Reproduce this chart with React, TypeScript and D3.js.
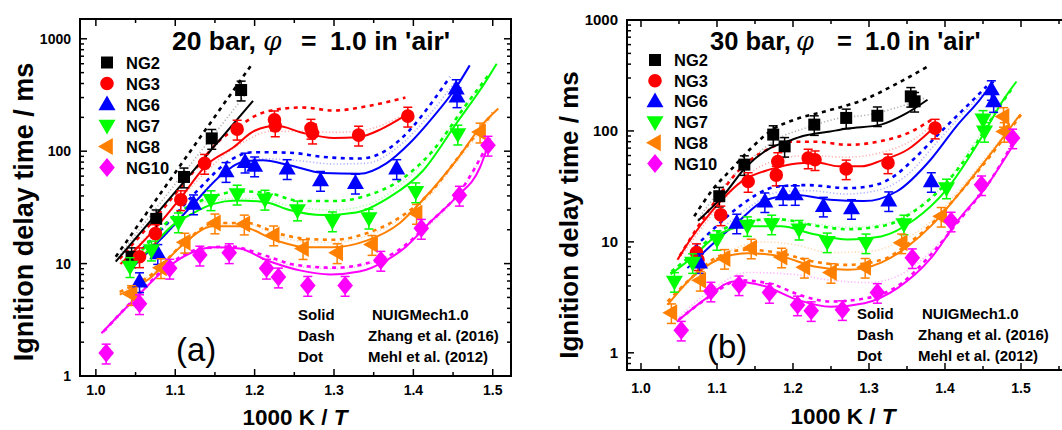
import React from 'react';
import * as d3 from 'd3';

type P = [number, number];

// ---------- shared data ----------
const mixtures = ['NG2', 'NG3', 'NG6', 'NG7', 'NG8', 'NG10'];
const colors = ['#000000', '#ff0000', '#0000ff', '#00ff00', '#ff8000', '#ff00ff'];
const shapes = ['square', 'circle', 'triUp', 'triDown', 'triLeft', 'diamond'];
const relErr = 0.2;
const xTickLabels = ['1.0', '1.1', '1.2', '1.3', '1.4', '1.5'];
const yTickLabels = ['1', '10', '100', '1000'];
const modelNames = ['Solid', 'Dash', 'Dot'];
const modelRefs = ['NUIGMech1.0', 'Zhang et al. (2016)', 'Mehl et al. (2012)'];

// ---------- panel (a): 20 bar ----------
const ptsA_NG2: P[] = [[1.045, 11.5], [1.076, 25], [1.111, 59], [1.146, 130], [1.183, 350]];
const solA_NG2: P[] = [[1.025, 10.4], [1.198, 280]];
const dashA_NG2: P[] = [[1.025, 11.5], [1.197, 600]];
const dotA_NG2: P[] = [[1.025, 10.8], [1.19, 330]];

const ptsA_NG3: P[] = [[1.055, 11.5], [1.075, 18.5], [1.107, 37], [1.137, 78], [1.178, 157], [1.225, 190], [1.226, 168], [1.271, 160], [1.273, 145], [1.331, 139], [1.393, 205]];
const solA_NG3: P[] = [[1.031, 9.9], [1.055, 14.5], [1.076, 21], [1.111, 42], [1.139, 75], [1.173, 108], [1.2, 152], [1.228, 168], [1.26, 146], [1.3, 131], [1.33, 133], [1.36, 158], [1.39, 208]];
const dashA_NG3: P[] = [[1.03, 11], [1.08, 28], [1.12, 62], [1.156, 125], [1.18, 165], [1.2, 205], [1.228, 235], [1.26, 245], [1.3, 230], [1.34, 250], [1.39, 300]];
const dotA_NG3: P[] = [[1.03, 10], [1.08, 23], [1.12, 48], [1.16, 90], [1.19, 125], [1.22, 150], [1.26, 150], [1.3, 147], [1.34, 155], [1.39, 215]];

const ptsA_NG6: P[] = [[1.055, 6.9], [1.078, 12.3], [1.123, 34], [1.164, 66], [1.188, 80], [1.2, 74], [1.241, 70], [1.283, 55], [1.327, 52], [1.379, 70], [1.454, 360], [1.455, 305]];
const solA_NG6: P[] = [[1.045, 9.1], [1.08, 16], [1.123, 34], [1.16, 63], [1.19, 82], [1.21, 83], [1.244, 75], [1.286, 64], [1.332, 63], [1.366, 78], [1.395, 117], [1.425, 202], [1.454, 371], [1.471, 580]];
const dashA_NG6: P[] = [[1.043, 10.5], [1.093, 24], [1.131, 47], [1.169, 83], [1.198, 98], [1.244, 97], [1.286, 89], [1.332, 86], [1.366, 102], [1.395, 153], [1.425, 282], [1.446, 458]];
const dotA_NG6: P[] = [[1.045, 9.5], [1.1, 22], [1.15, 55], [1.2, 86], [1.25, 83], [1.3, 77], [1.34, 78], [1.38, 108], [1.42, 210], [1.455, 440]];

const ptsA_NG7: P[] = [[1.043, 9.4], [1.07, 13.2], [1.104, 23.5], [1.145, 37], [1.178, 41.5], [1.213, 37.4], [1.254, 30], [1.298, 24], [1.344, 25.4], [1.403, 43.5], [1.456, 142]];
const solA_NG7: P[] = [[1.041, 8.8], [1.07, 14], [1.097, 22], [1.118, 27], [1.148, 34], [1.177, 36.5], [1.215, 35], [1.244, 30], [1.286, 27], [1.328, 28.5], [1.37, 39], [1.412, 67], [1.454, 176], [1.492, 425], [1.505, 600]];
const dashA_NG7: P[] = [[1.045, 10], [1.1, 27], [1.15, 40], [1.18, 44], [1.22, 42], [1.257, 36], [1.3, 36], [1.34, 40], [1.383, 55], [1.425, 102], [1.463, 240], [1.496, 490]];
const dotA_NG7: P[] = [[1.045, 9.5], [1.1, 25], [1.15, 37], [1.2, 38], [1.25, 32], [1.3, 30], [1.34, 33], [1.38, 48], [1.42, 90], [1.46, 220], [1.5, 520]];

const ptsA_NG8: P[] = [[1.045, 5.3], [1.082, 9.2], [1.112, 15.5], [1.15, 23], [1.187, 22.5], [1.224, 18], [1.261, 13.6], [1.304, 12.5], [1.348, 14.8], [1.404, 28], [1.484, 148]];
const solA_NG8: P[] = [[1.03, 5.3], [1.068, 7.4], [1.106, 14], [1.148, 21.5], [1.181, 21.5], [1.228, 16], [1.265, 14], [1.299, 14], [1.341, 16], [1.383, 23], [1.412, 37], [1.454, 83], [1.488, 176], [1.507, 240]];
const dashA_NG8: P[] = [[1.03, 5.6], [1.07, 8], [1.11, 15], [1.15, 23], [1.19, 23], [1.23, 18.5], [1.27, 16.5], [1.3, 16.3], [1.34, 18.5], [1.38, 25], [1.42, 42], [1.46, 95], [1.5, 220]];
const dotA_NG8: P[] = [[1.03, 5.5], [1.07, 8], [1.11, 15], [1.15, 22.5], [1.19, 22.5], [1.23, 17.5], [1.27, 15.5], [1.3, 15.5], [1.34, 17.5], [1.38, 24], [1.42, 40], [1.46, 90], [1.5, 210]];

const ptsA_NG10: P[] = [[1.013, 1.6], [1.055, 4.4], [1.093, 9.1], [1.131, 11.9], [1.168, 12.5], [1.215, 9.1], [1.23, 7.6], [1.267, 6.4], [1.314, 6.4], [1.359, 10.7], [1.41, 20.6], [1.458, 40.6], [1.494, 113]];
const solA_NG10: P[] = [[1.007, 2.4], [1.047, 4.7], [1.089, 9.1], [1.118, 12.3], [1.148, 14], [1.181, 13.6], [1.215, 10.7], [1.257, 8.7], [1.295, 8], [1.332, 8.5], [1.366, 10.7], [1.39, 14], [1.42, 23], [1.454, 39], [1.484, 72], [1.497, 130]];
const dashA_NG10: P[] = [[1.01, 2.5], [1.05, 5], [1.09, 9.5], [1.13, 13.5], [1.17, 14.2], [1.21, 12], [1.25, 9.8], [1.3, 9.2], [1.34, 10], [1.38, 13], [1.42, 23], [1.46, 45], [1.495, 120]];
const dotA_NG10: P[] = [[1.01, 2.4], [1.05, 4.8], [1.09, 9.3], [1.13, 13], [1.17, 13.8], [1.21, 11.5], [1.25, 9.5], [1.3, 9], [1.34, 9.8], [1.38, 12.8], [1.42, 22], [1.46, 44], [1.495, 115]];

// ---------- panel (b): 30 bar ----------
const ptsB_NG2: P[] = [[1.103, 25.8], [1.136, 49.7], [1.174, 92.7], [1.189, 72.6], [1.228, 114], [1.27, 131], [1.311, 137], [1.355, 205], [1.36, 185]];
const solB_NG2: P[] = [[1.075, 15.5], [1.108, 26], [1.139, 48], [1.17, 70], [1.192, 80], [1.213, 90], [1.249, 99], [1.272, 105], [1.316, 114], [1.346, 140], [1.377, 191]];
const dashB_NG2: P[] = [[1.07, 17], [1.095, 30], [1.12, 46], [1.145, 70], [1.175, 105], [1.2, 125], [1.25, 155], [1.294, 192], [1.338, 270], [1.377, 380]];
const dotB_NG2: P[] = [[1.075, 16], [1.1, 27], [1.14, 52], [1.18, 85], [1.22, 108], [1.26, 130], [1.3, 140], [1.34, 165], [1.375, 200]];

const ptsB_NG3: P[] = [[1.073, 8.0], [1.075, 6.9], [1.105, 17.5], [1.141, 35], [1.178, 40], [1.18, 53], [1.22, 57], [1.229, 55], [1.27, 45.5], [1.325, 51.5], [1.387, 106]];
const solB_NG3: P[] = [[1.048, 6.9], [1.065, 10.5], [1.095, 19.5], [1.135, 36], [1.17, 45], [1.205, 51], [1.231, 52], [1.26, 48], [1.29, 48], [1.316, 54], [1.351, 68], [1.382, 102]];
const dashB_NG3: P[] = [[1.051, 7.5], [1.093, 21], [1.13, 45], [1.17, 70], [1.196, 80], [1.23, 80], [1.272, 75], [1.316, 81], [1.36, 102], [1.382, 126]];
const dotB_NG3: P[] = [[1.05, 7], [1.1, 20], [1.14, 40], [1.18, 55], [1.22, 60], [1.27, 58], [1.32, 65], [1.36, 85], [1.385, 115]];

const ptsB_NG6: P[] = [[1.077, 6.5], [1.126, 14.8], [1.163, 23], [1.187, 26.7], [1.203, 26.7], [1.24, 21], [1.277, 20], [1.326, 23.5], [1.382, 35], [1.461, 236], [1.464, 184]];
const solB_NG6: P[] = [[1.061, 5.8], [1.09, 9], [1.126, 14.8], [1.165, 24], [1.205, 26.5], [1.249, 24], [1.293, 23.3], [1.337, 28.6], [1.381, 55], [1.415, 110], [1.446, 192], [1.464, 279]];
const dashB_NG6: P[] = [[1.071, 9], [1.1, 14], [1.13, 21], [1.179, 31.5], [1.218, 32.5], [1.272, 30.5], [1.311, 33], [1.335, 40], [1.358, 55], [1.393, 96], [1.433, 179], [1.455, 253]];
const dotB_NG6: P[] = [[1.065, 7], [1.1, 12], [1.14, 20], [1.18, 28], [1.22, 29], [1.27, 27], [1.31, 29], [1.35, 40], [1.39, 80], [1.43, 160], [1.46, 250]];

const ptsB_NG7: P[] = [[1.044, 4.4], [1.068, 6.5], [1.1, 10.5], [1.14, 14], [1.172, 14.5], [1.208, 13], [1.245, 10], [1.296, 9.8], [1.346, 14.5], [1.402, 30.6], [1.452, 99], [1.45, 127]];
const solB_NG7: P[] = [[1.039, 5.1], [1.07, 7.5], [1.096, 10.9], [1.14, 13.8], [1.184, 13.8], [1.228, 11.7], [1.272, 10.5], [1.316, 11.2], [1.36, 15.9], [1.402, 29.6], [1.446, 83], [1.477, 191], [1.494, 279]];
const dashB_NG7: P[] = [[1.04, 5.4], [1.07, 8], [1.1, 12], [1.14, 15.5], [1.18, 16], [1.23, 14], [1.27, 13], [1.32, 14], [1.36, 19], [1.4, 33], [1.44, 75], [1.47, 160], [1.49, 250]];
const dotB_NG7: P[] = [[1.04, 5.3], [1.07, 7.8], [1.1, 11.5], [1.14, 15], [1.18, 15.5], [1.23, 14.5], [1.27, 13.5], [1.32, 14.5], [1.36, 19.5], [1.4, 34], [1.44, 80], [1.47, 170], [1.49, 260]];

const ptsB_NG8: P[] = [[1.04, 2.3], [1.078, 4.5], [1.11, 7.1], [1.145, 8.8], [1.185, 7.3], [1.215, 5.9], [1.25, 5.3], [1.295, 5.9], [1.343, 9.8], [1.395, 17], [1.477, 135], [1.478, 99]];
const solB_NG8: P[] = [[1.035, 2.7], [1.066, 4.7], [1.101, 6.9], [1.14, 7.9], [1.184, 7.4], [1.228, 6], [1.272, 5.6], [1.316, 6.5], [1.351, 9.1], [1.382, 14], [1.42, 28], [1.46, 62], [1.499, 141]];
const dashB_NG8: P[] = [[1.035, 2.9], [1.07, 5], [1.1, 7.3], [1.14, 8.5], [1.18, 8], [1.23, 6.6], [1.27, 6.2], [1.32, 7], [1.35, 9.5], [1.38, 14], [1.42, 28], [1.46, 60], [1.5, 140]];
const dotB_NG8: P[] = [[1.04, 3], [1.08, 5.5], [1.12, 8.5], [1.16, 10], [1.2, 9.5], [1.25, 8], [1.3, 8.2], [1.34, 10], [1.38, 15], [1.42, 30], [1.46, 65], [1.5, 145]];

const ptsB_NG10: P[] = [[1.053, 1.6], [1.092, 3.6], [1.129, 4.1], [1.169, 3.5], [1.206, 2.7], [1.224, 2.4], [1.265, 2.45], [1.311, 3.5], [1.357, 7.2], [1.408, 15.4], [1.448, 32.7], [1.489, 86.5]];
const solB_NG10: P[] = [[1.048, 1.93], [1.083, 3.0], [1.123, 4.4], [1.162, 4.0], [1.206, 3.0], [1.25, 2.6], [1.294, 2.8], [1.338, 3.85], [1.382, 7.2], [1.415, 15], [1.455, 32], [1.49, 75]];
const dashB_NG10: P[] = [[1.05, 2.0], [1.09, 3.2], [1.13, 4.5], [1.17, 4.2], [1.21, 3.3], [1.25, 2.9], [1.29, 3.05], [1.34, 4.1], [1.38, 7.5], [1.42, 16], [1.46, 36], [1.49, 80]];
const dotB_NG10: P[] = [[1.05, 2.1], [1.1, 4], [1.14, 5.3], [1.2, 5.1], [1.25, 4.5], [1.3, 4.3], [1.34, 5], [1.38, 8], [1.42, 16], [1.46, 35]];

const FONT = "'Liberation Sans', Arial, Helvetica, sans-serif";

type SeriesSet = { pts: P[]; sol: P[]; dash: P[]; dot: P[] };

const seriesA: SeriesSet[] = [
  { pts: ptsA_NG2, sol: solA_NG2, dash: dashA_NG2, dot: dotA_NG2 },
  { pts: ptsA_NG3, sol: solA_NG3, dash: dashA_NG3, dot: dotA_NG3 },
  { pts: ptsA_NG6, sol: solA_NG6, dash: dashA_NG6, dot: dotA_NG6 },
  { pts: ptsA_NG7, sol: solA_NG7, dash: dashA_NG7, dot: dotA_NG7 },
  { pts: ptsA_NG8, sol: solA_NG8, dash: dashA_NG8, dot: dotA_NG8 },
  { pts: ptsA_NG10, sol: solA_NG10, dash: dashA_NG10, dot: dotA_NG10 },
];
const seriesB: SeriesSet[] = [
  { pts: ptsB_NG2, sol: solB_NG2, dash: dashB_NG2, dot: dotB_NG2 },
  { pts: ptsB_NG3, sol: solB_NG3, dash: dashB_NG3, dot: dotB_NG3 },
  { pts: ptsB_NG6, sol: solB_NG6, dash: dashB_NG6, dot: dotB_NG6 },
  { pts: ptsB_NG7, sol: solB_NG7, dash: dashB_NG7, dot: dotB_NG7 },
  { pts: ptsB_NG8, sol: solB_NG8, dash: dashB_NG8, dot: dotB_NG8 },
  { pts: ptsB_NG10, sol: solB_NG10, dash: dashB_NG10, dot: dotB_NG10 },
];

function markerPath(shape: string): string {
  switch (shape) {
    case 'square': return 'M-6,-6H6V6H-6Z';
    case 'circle': return d3.symbol(d3.symbolCircle, Math.PI * 6.8 * 6.8)() || '';
    case 'triUp': return 'M0,-9L8.5,5.8L-8.5,5.8Z';
    case 'triDown': return 'M0,9L8.5,-5.8L-8.5,-5.8Z';
    case 'triLeft': return 'M-9,0L5.8,-8.5L5.8,8.5Z';
    default: return 'M0,-9.5L7.8,0L0,9.5L-7.8,0Z';
  }
}

type Cfg = {
  id: string;
  left: number; right: number; top: number; bottom: number;
  xDomain: [number, number]; yDomain: [number, number];
  title: string; phiX: number; eqX: number; restX: number; titleX: number; titleY: number; titleSize: number;
  legendX: number; legendY: number; legendDy: number;
  noteX: number; noteX2: number; noteY: number; noteDy: number;
  tag: string; tagX: number; tagY: number;
  yTitleX: number; yTitleY: number; yTitleSize: number;
  xTitleX: number; xTitleY: number;
  xLabelY: number; yLabelSize: number;
};

function Panel({ cfg, series }: { cfg: Cfg; series: SeriesSet[] }) {
  const x = d3.scaleLinear().domain(cfg.xDomain).range([cfg.left, cfg.right]);
  const y = d3.scaleLog().domain(cfg.yDomain).range([cfg.bottom, cfg.top]);
  const line = d3.line<P>().x(d => x(d[0])).y(d => y(d[1])).curve(d3.curveMonotoneX);

  const yMinor: number[] = [];
  const lo = Math.floor(Math.log10(cfg.yDomain[0]));
  const hi = Math.ceil(Math.log10(cfg.yDomain[1]));
  for (let k = lo; k <= hi; k++) {
    for (let m = 1; m <= 9; m++) {
      const v = m * Math.pow(10, k);
      if (v >= cfg.yDomain[0] - 1e-9 && v <= cfg.yDomain[1] + 1e-9) yMinor.push(v);
    }
  }
  const xMinor: number[] = [];
  for (let i = 0; i <= 14; i++) {
    const v = 0.9 + i * 0.05;
    if (v >= cfg.xDomain[0] && v <= cfg.xDomain[1]) xMinor.push(v);
  }
  const isMajorY = (v: number) => Math.abs(Math.log10(v) - Math.round(Math.log10(v))) < 1e-6;
  const isMajorX = (v: number) => Math.abs(v * 10 - Math.round(v * 10)) < 1e-6;

  const clipId = `clip-${cfg.id}`;
  const cap = 4.5;

  return (
    <g>
      <defs>
        <clipPath id={clipId}>
          <rect x={cfg.left} y={cfg.top} width={cfg.right - cfg.left} height={cfg.bottom - cfg.top} />
        </clipPath>
      </defs>

      <g clipPath={`url(#${clipId})`} fill="none">
        {series.map((s, i) => (
          <path key={'dot' + i} d={line(s.dot) || ''} stroke={colors[i]} strokeWidth={1.6} strokeDasharray="1.2,2.2" opacity={0.3} />
        ))}
        {series.map((s, i) => (
          <path key={'dash' + i} d={line(s.dash) || ''} stroke={colors[i]} strokeWidth={2.6} strokeDasharray="4,4.5" />
        ))}
        {series.map((s, i) => (
          <path key={'sol' + i} d={line(s.sol) || ''} stroke={colors[i]} strokeWidth={2} />
        ))}
      </g>

      <g clipPath={`url(#${clipId})`}>
        {series.map((s, i) => (
          <g key={'pts' + i} fill={colors[i]} stroke={colors[i]}>
            {s.pts.map((p, j) => {
              const cx = x(p[0]);
              const cy = y(p[1]);
              const yt = y(p[1] * (1 + relErr));
              const yb = y(p[1] * (1 - relErr));
              return (
                <g key={j}>
                  <line x1={cx} x2={cx} y1={yt} y2={yb} strokeWidth={1.5} />
                  <line x1={cx - cap} x2={cx + cap} y1={yt} y2={yt} strokeWidth={1.5} />
                  <line x1={cx - cap} x2={cx + cap} y1={yb} y2={yb} strokeWidth={1.5} />
                  <path d={markerPath(shapes[i])} transform={`translate(${cx},${cy})`} stroke="none" />
                </g>
              );
            })}
          </g>
        ))}
      </g>

      <rect x={cfg.left} y={cfg.top} width={cfg.right - cfg.left} height={cfg.bottom - cfg.top} fill="none" stroke="#000" strokeWidth={2} />

      <g stroke="#000" strokeWidth={1.5}>
        {yMinor.map((v, i) => {
          const len = isMajorY(v) ? 7 : 4;
          const yy = y(v);
          return (
            <g key={i}>
              <line x1={cfg.left} x2={cfg.left + len} y1={yy} y2={yy} />
              <line x1={cfg.right} x2={cfg.right - len} y1={yy} y2={yy} />
            </g>
          );
        })}
        {xMinor.map((v, i) => {
          const len = isMajorX(v) ? 7 : 4;
          const xx = x(v);
          return (
            <g key={'x' + i}>
              <line x1={xx} x2={xx} y1={cfg.bottom} y2={cfg.bottom - len} />
              <line x1={xx} x2={xx} y1={cfg.top} y2={cfg.top + len} />
            </g>
          );
        })}
      </g>

      <g fontFamily={FONT} fontWeight="bold" fill="#000">
        {yTickLabels.map((t, i) => {
          const v = +t;
          if (v < cfg.yDomain[0] || v > cfg.yDomain[1]) return null;
          return (
            <text key={'yl' + i} x={cfg.left - 9} y={y(v) + 5} textAnchor="end" fontSize={cfg.yLabelSize}>{t}</text>
          );
        })}
        {xTickLabels.map((t, i) => (
          <text key={'xl' + i} x={x(+t)} y={cfg.xLabelY} textAnchor="middle" fontSize={14}>{t}</text>
        ))}
      </g>

      <text transform={`translate(${cfg.yTitleX},${cfg.yTitleY}) rotate(-90)`} textAnchor="middle" fontFamily={FONT} fontWeight="bold" fontSize={cfg.yTitleSize}>Ignition delay time / ms</text>
      <text x={cfg.xTitleX} y={cfg.xTitleY} textAnchor="middle" fontFamily={FONT} fontWeight="bold" fontSize={22.5}>
        1000 K / <tspan fontStyle="italic">T</tspan>
      </text>

      <text y={cfg.titleY} fontFamily={FONT} fontWeight="bold" fontSize={cfg.titleSize}>
        <tspan x={cfg.titleX}>{cfg.title}</tspan>
        <tspan x={cfg.phiX} fontStyle="italic" fontWeight="normal" fontFamily="'DejaVu Serif', serif">φ</tspan>
        <tspan x={cfg.eqX}>=</tspan>
        <tspan x={cfg.restX}>1.0 in 'air'</tspan>
      </text>

      <g fontFamily={FONT} fontWeight="bold" fontSize={16.5}>
        {mixtures.map((m, i) => (
          <g key={'lg' + i}>
            <path d={markerPath(shapes[i])} transform={`translate(${cfg.legendX},${cfg.legendY + i * cfg.legendDy})`} fill={colors[i]} />
            <text x={cfg.legendX + 19} y={cfg.legendY + i * cfg.legendDy + 6}>{m}</text>
          </g>
        ))}
      </g>

      <g fontFamily={FONT} fontWeight="bold" fontSize={15}>
        {modelNames.map((m, i) => (
          <g key={'mn' + i}>
            <text x={cfg.noteX} y={cfg.noteY + i * cfg.noteDy}>{m}</text>
            <text x={cfg.noteX2 + (i === 0 ? 4 : 0)} y={cfg.noteY + i * cfg.noteDy}>{modelRefs[i]}</text>
          </g>
        ))}
      </g>

      <text x={cfg.tagX} y={cfg.tagY} fontFamily={FONT} fontSize={33}>{cfg.tag}</text>
    </g>
  );
}

const cfgA: Cfg = {
  id: 'a', left: 80, right: 511, top: 19, bottom: 376,
  xDomain: [0.98, 1.523], yDomain: [1, 1500],
  title: '20 bar,', titleX: 172, phiX: 263, eqX: 301, restX: 330, titleY: 50, titleSize: 26.5,
  legendX: 107, legendY: 62.5, legendDy: 21,
  noteX: 298, noteX2: 368, noteY: 320, noteDy: 21,
  tag: '(a)', tagX: 176, tagY: 361,
  yTitleX: 33, yTitleY: 212, yTitleSize: 27,
  xTitleX: 295, xTitleY: 425,
  xLabelY: 395, yLabelSize: 14,
};

const cfgB: Cfg = {
  id: 'b', left: 627, right: 1072, top: 20, bottom: 370,
  xDomain: [0.9816, 1.5671], yDomain: [0.7, 1000],
  title: '30 bar,', titleX: 710, phiX: 796, eqX: 837, restX: 865, titleY: 49.5, titleSize: 25.5,
  legendX: 655, legendY: 60, legendDy: 20.7,
  noteX: 857, noteX2: 918, noteY: 319, noteDy: 20.8,
  tag: '(b)', tagX: 707, tagY: 358,
  yTitleX: 578, yTitleY: 215, yTitleSize: 26,
  xTitleX: 843, xTitleY: 424,
  xLabelY: 393, yLabelSize: 15,
};

export default function App() {
  return (
    <div style={{ position: 'absolute', left: 0, top: 0 }}>
      <svg width={1062} height={430} viewBox="0 0 1062 430" style={{ display: 'block', background: '#fff' }}>
        <rect x={0} y={0} width={1062} height={430} fill="#fff" />
        <Panel cfg={cfgA} series={seriesA} />
        <Panel cfg={cfgB} series={seriesB} />
      </svg>
    </div>
  );
}
